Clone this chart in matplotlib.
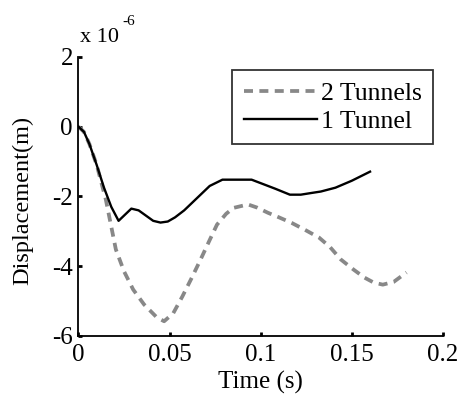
import numpy as np
import matplotlib
matplotlib.use("Agg")
import matplotlib.pyplot as plt

plt.rcParams['font.family'] = ['Liberation Serif', 'DejaVu Serif']

# displacement in units of 1e-6 m
t_one = [0, 0.003, 0.006, 0.01, 0.014, 0.018, 0.022, 0.026, 0.029, 0.033,
         0.037, 0.041, 0.045, 0.049, 0.053, 0.058, 0.065, 0.072, 0.079, 0.087,
         0.095, 0.1, 0.108, 0.116, 0.122, 0.128, 0.133, 0.141, 0.15, 0.16]
d_one = [0, -0.15, -0.5, -1.1, -1.75, -2.3, -2.7, -2.5, -2.35, -2.4,
         -2.55, -2.7, -2.75, -2.72, -2.6, -2.4, -2.05, -1.7, -1.52, -1.52,
         -1.52, -1.62, -1.78, -1.95, -1.95, -1.9, -1.86, -1.75, -1.55, -1.29]

t_two = [0, 0.003, 0.006, 0.01, 0.015, 0.0205, 0.025, 0.03, 0.036, 0.043,
         0.047, 0.052, 0.057, 0.062, 0.067, 0.072, 0.076, 0.081, 0.085, 0.093,
         0.098, 0.104, 0.11, 0.117, 0.124, 0.132, 0.138, 0.144, 0.151, 0.157,
         0.162, 0.167, 0.173, 0.18]
d_two = [0, -0.15, -0.5, -1.1, -2.09, -3.52, -4.15, -4.67, -5.1, -5.47,
         -5.58, -5.35, -4.87, -4.35, -3.81, -3.25, -2.81, -2.5, -2.33, -2.23,
         -2.32, -2.47, -2.6, -2.76, -2.95, -3.18, -3.45, -3.81, -4.1, -4.33,
         -4.47, -4.53, -4.45, -4.18]

xticks = [0, 0.05, 0.1, 0.15, 0.2]
xticklabels = ['0', '0.05', '0.1', '0.15', '0.2']
yticks = [-6, -4, -2, 0, 2]
yticklabels = ['-6', '-4', '-2', '0', '2']

fig = plt.figure(figsize=(4.59, 3.98), dpi=100)
ax = fig.add_axes([0.171, 0.156, 0.794, 0.701])

ax.plot(t_two, d_two, color='#888888', lw=2.7, ls=(0, (2.4, 1.7)), label='2 Tunnels')
ax.plot(t_one, d_one, color='black', lw=1.7, label='1 Tunnel')

ax.set_xlim(0, 0.2)
ax.set_ylim(-6, 2)
ax.set_xticks(xticks)
ax.set_xticklabels(xticklabels)
ax.set_yticks(yticks)
ax.set_yticklabels(yticklabels)
ax.tick_params(direction='in', length=3, width=2, labelsize=18)
ax.tick_params(axis='x', pad=6)
ax.tick_params(axis='y', pad=4)
for s in ['top', 'right']:
    ax.spines[s].set_visible(False)
for s in ['left', 'bottom']:
    ax.spines[s].set_linewidth(1.3)

ax.set_xlabel('Time (s)', fontsize=18)
ax.set_ylabel('Displacement(m)', fontsize=17.5)
ax.xaxis.set_label_coords(0.5, -0.125)
ax.yaxis.set_label_coords(-0.125, 0.487)

fig.text(0.174, 0.894, 'x 10', fontsize=16, ha='left', va='baseline')
fig.text(0.266, 0.937, '-6', fontsize=11, ha='left', va='baseline')

leg = ax.legend(loc='upper right', bbox_to_anchor=(0.973, 0.953), fontsize=18.5,
                frameon=True, fancybox=False, handlelength=2.85,
                handletextpad=0.15, borderpad=0.45, labelspacing=0.2,
                borderaxespad=0)
leg.get_frame().set_edgecolor('black')
leg.get_frame().set_linewidth(1.3)

fig.savefig('out.png', dpi=100)
